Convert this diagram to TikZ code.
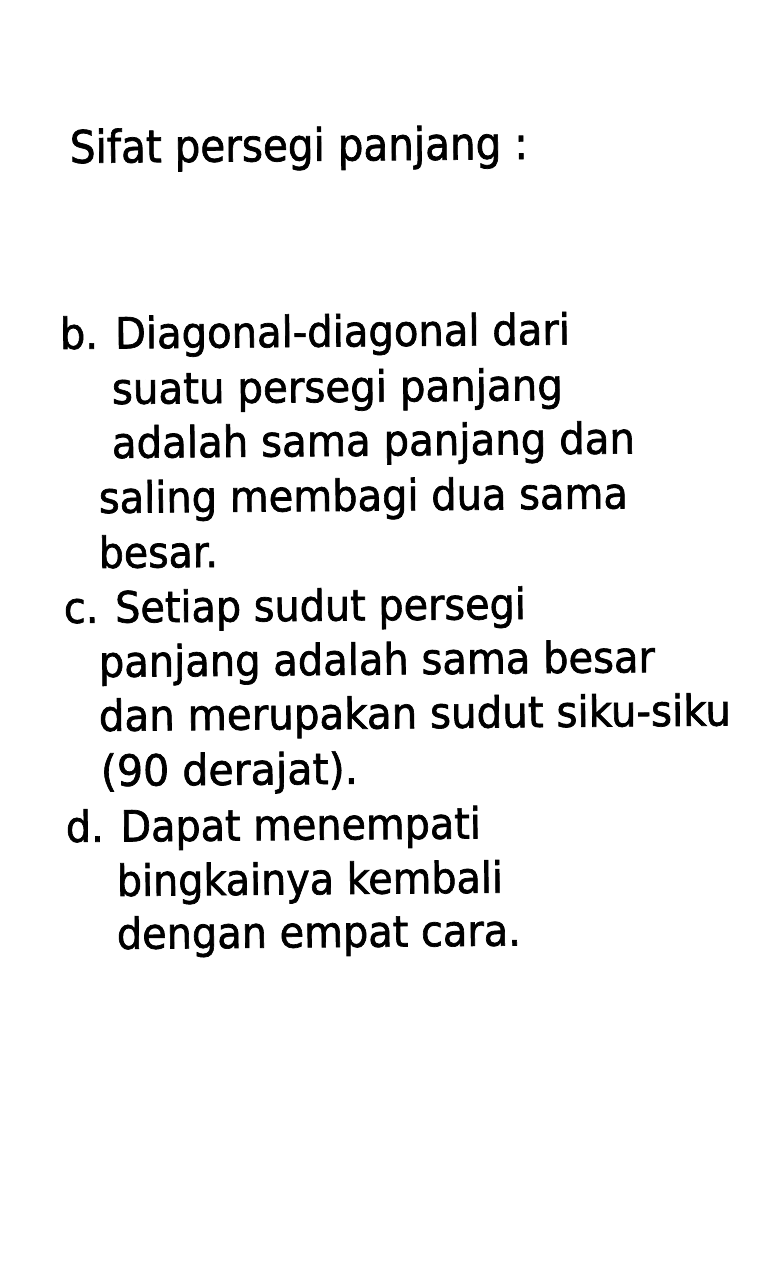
\documentclass[tikz,border=0pt]{standalone}
\usepackage{fontspec}
\usepackage{graphicx}
\setmainfont{DejaVu Sans}
\newfontfamily\heavysans[FakeBold=1.6]{DejaVu Sans}
\tikzset{
  txt/.style={anchor=base west, inner sep=0pt, outer sep=0pt, text=black, rotate=0.5},
  titletxt/.style={txt, font=\heavysans\fontsize{45}{54}\selectfont},
  bodytxt/.style={txt, font=\heavysans\fontsize{43}{54}\selectfont}
}
\begin{document}
\begin{tikzpicture}[x=1pt,y=1pt]
\useasboundingbox[fill=white] (0,0) rectangle (768,-1280);
\node[titletxt] (title) at (70,-163) {\resizebox{458pt}{\height}{Sifat persegi panjang :}};
\node[bodytxt] (b1) at (60,-349) {\resizebox{510pt}{\height}{b. Diagonal-diagonal dari}};
\node[bodytxt] (b2) at (112,-404) {\resizebox{451pt}{\height}{suatu persegi panjang}};
\node[bodytxt] (b3) at (112,-458) {\resizebox{523pt}{\height}{adalah sama panjang dan}};
\node[bodytxt] (b4) at (99,-513) {\resizebox{529pt}{\height}{saling membagi dua sama}};
\node[bodytxt] (b5) at (99,-568) {\resizebox{119pt}{\height}{besar.}};
\node[bodytxt] (c1) at (64,-623) {\resizebox{462pt}{\height}{c. Setiap sudut persegi}};
\node[bodytxt] (c2) at (99,-677) {\resizebox{556pt}{\height}{panjang adalah sama besar}};
\node[bodytxt] (c3) at (99,-731) {\resizebox{632pt}{\height}{dan merupakan sudut siku-siku}};
\node[bodytxt] (c4) at (101,-786) {\resizebox{257pt}{\height}{(90 derajat).}};
\node[bodytxt] (d1) at (66,-842) {\resizebox{415pt}{\height}{d. Dapat menempati}};
\node[bodytxt] (d2) at (117,-896) {\resizebox{386pt}{\height}{bingkainya kembali}};
\node[bodytxt] (d3) at (117,-949) {\resizebox{404pt}{\height}{dengan empat cara.}};
\end{tikzpicture}
\end{document}
